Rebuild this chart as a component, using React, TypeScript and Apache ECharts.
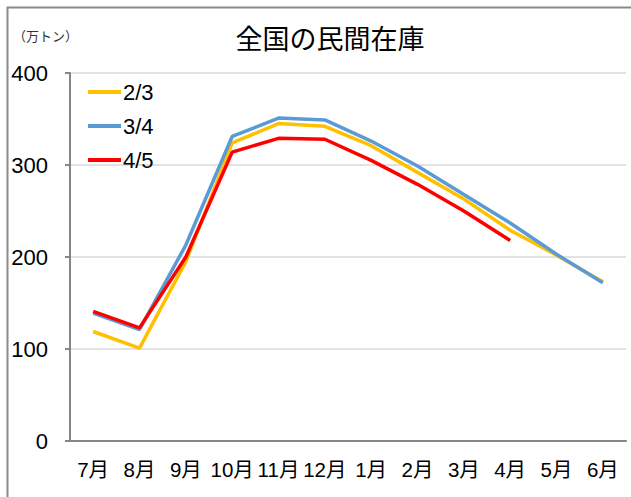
import React, { useEffect, useRef } from "react";
import * as echarts from "echarts";

const categories = ["7月", "8月", "9月", "10月", "11月", "12月", "1月", "2月", "3月", "4月", "5月", "6月"];
const s23 = [119, 101, 195, 324, 345, 342, 321, 292, 263, 229, 202, 173];
const s34 = [139, 121, 213, 331, 351, 349, 326, 299, 268, 237, 203, 172];
const s45 = [141, 123, 200, 314, 329, 328, 305, 279, 250, 218];
const seriesNames = ["2/3", "3/4", "4/5"];
const yTicks = [0, 100, 200, 300, 400];

const JP = "'Liberation Sans', 'Noto Sans CJK JP', sans-serif";

export default function App() {
  const ref = useRef<HTMLDivElement>(null);
  useEffect(() => {
    if (!ref.current) return;
    const chart = echarts.init(ref.current, undefined, { renderer: "svg" });
    const colors = ["#FFC000", "#5B9BD5", "#FF0000"];
    const data = [s23, s34, s45];
    chart.setOption({
      animation: false,
      backgroundColor: "#fff",
      title: {
        text: "全国の民間在庫",
        left: 325,
        top: 19,
        textAlign: "center",
        textStyle: { fontFamily: "'Noto Sans CJK JP', sans-serif", fontSize: 27, fontWeight: "normal", color: "#000" },
      },
      graphic: [
        {
          type: "rect",
          shape: { x: 7.5, y: 7.5, width: 700, height: 600 },
          style: { fill: "none", stroke: "#8a8a8a", lineWidth: 2 },
          silent: true,
        },
        {
          type: "text",
          left: 13,
          top: 29,
          style: { text: "（万トン）", fontFamily: "'Noto Sans CJK JP', sans-serif", fontSize: 13, fill: "#333" },
        },
      ],
      legend: {
        orient: "vertical",
        left: 83,
        top: 76,
        icon: "rect",
        itemWidth: 33,
        itemHeight: 4,
        itemGap: 12,
        data: seriesNames,
        textStyle: { fontFamily: JP, fontSize: 22, color: "#000", lineHeight: 22, padding: [0, 0, 0, -3] },
      },
      grid: { left: 70, right: 5, top: 73, bottom: 56 },
      xAxis: {
        type: "category",
        data: categories,
        boundaryGap: true,
        axisLine: { lineStyle: { color: "#868686", width: 2 } },
        axisTick: { show: false },
        axisLabel: { margin: 18, fontFamily: JP, fontSize: 20.5, color: "#000", interval: 0 },
      },
      yAxis: {
        type: "value",
        min: yTicks[0],
        max: yTicks[yTicks.length - 1],
        interval: 100,
        axisLine: { show: true, lineStyle: { color: "#868686", width: 2 } },
        axisTick: { show: true, length: 5, lineStyle: { color: "#868686", width: 2 } },
        axisLabel: { margin: 22, fontFamily: JP, fontSize: 22, color: "#000" },
        splitLine: { lineStyle: { color: "#d9d9d9", width: 1.5 } },
      },
      series: seriesNames.map((name, i) => ({
        name,
        type: "line",
        data: data[i],
        symbol: "none",
        lineStyle: { color: colors[i], width: 3.5 },
        itemStyle: { color: colors[i] },
      })),
    });
    return () => chart.dispose();
  }, []);
  return <div ref={ref} style={{ position: "fixed", left: 0, top: 0, width: 631, height: 497 }} />;
}
